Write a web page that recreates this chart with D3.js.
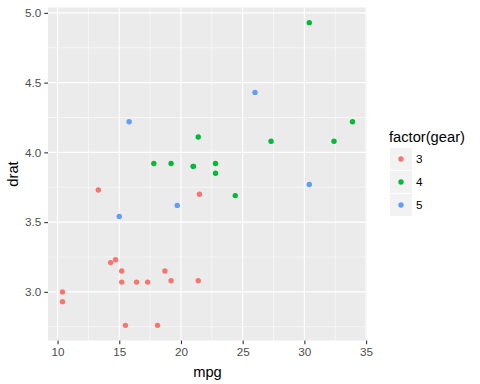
<!DOCTYPE html>
<html>
<head>
<meta charset="utf-8">
<script src="https://cdn.jsdelivr.net/npm/d3@7"></script>
<style>
  body { margin: 0; background: #fff; }
  text { font-family: "Liberation Sans", Arial, sans-serif; }
</style>
</head>
<body>
<div id="chart"></div>
<script>
// mtcars: mpg vs drat, coloured by gear
var mpg  = [21.0, 21.0, 22.8, 21.4, 18.7, 18.1, 14.3, 24.4, 22.8, 19.2, 17.8, 16.4, 17.3, 15.2, 10.4, 10.4,
            14.7, 32.4, 30.4, 33.9, 21.5, 15.5, 15.2, 13.3, 19.2, 27.3, 26.0, 30.4, 15.8, 19.7, 15.0, 21.4]
var drat = [3.90, 3.90, 3.85, 3.08, 3.15, 2.76, 3.21, 3.69, 3.92, 3.92, 3.92, 3.07, 3.07, 3.07, 2.93, 3.00,
            3.23, 4.08, 4.93, 4.22, 3.70, 2.76, 3.15, 3.73, 3.08, 4.08, 4.43, 3.77, 4.22, 3.62, 3.54, 4.11]
var gear = [4, 4, 4, 3, 3, 3, 3, 4, 4, 4, 4, 3, 3, 3, 3, 3,
            3, 4, 4, 4, 3, 3, 3, 3, 3, 4, 5, 5, 5, 5, 5, 4]
var gearLevels = ['3', '4', '5']
var gearColours = ['#F8766D', '#00BA38', '#619CFF']
var xTicks = [10, 15, 20, 25, 30, 35]
var yTicks = [3.0, 3.5, 4.0, 4.5, 5.0]

var width = 480, height = 384
var panel = { left: 48, right: 367, top: 7.5, bottom: 340.5 }

var dataset = mpg.map(function(d, i) {
    return { mpg: d, drat: drat[i], gear: String(gear[i]) }
})

var svg = d3.select('#chart').append('svg')
    .attr('width', width)
    .attr('height', height)

// scales with ggplot's 5% expansion
function expand(ext) {
    var r = ext[1] - ext[0]
    return [ext[0] - r * 0.05, ext[1] + r * 0.05]
}

var xScale = d3.scaleLinear()
    .domain(expand(d3.extent(mpg)))
    .range([panel.left, panel.right])

var yScale = d3.scaleLinear()
    .domain(expand(d3.extent(drat)))
    .range([panel.bottom, panel.top])

var colour = d3.scaleOrdinal().domain(gearLevels).range(gearColours)

// panel background
svg.append('rect')
    .attr('x', panel.left)
    .attr('y', panel.top)
    .attr('width', panel.right - panel.left)
    .attr('height', panel.bottom - panel.top)
    .style('fill', '#EBEBEB')

// minor grid
var xMinor = [], yMinor = []
for (var i = 0; i < xTicks.length - 1; i++) xMinor.push((xTicks[i] + xTicks[i + 1]) / 2)
yMinor.push(yTicks[0] - 0.25)
for (var i = 0; i < yTicks.length - 1; i++) yMinor.push((yTicks[i] + yTicks[i + 1]) / 2)

var grid = svg.append('g').classed('grid', true)

grid.selectAll('.xminor').data(xMinor.filter(d => xScale(d) > panel.left && xScale(d) < panel.right))
    .enter().append('line')
    .attr('x1', d => xScale(d)).attr('x2', d => xScale(d))
    .attr('y1', panel.top).attr('y2', panel.bottom)
    .style('stroke', '#fff').style('stroke-width', 0.55)

grid.selectAll('.yminor').data(yMinor.filter(d => yScale(d) < panel.bottom && yScale(d) > panel.top))
    .enter().append('line')
    .attr('y1', d => yScale(d)).attr('y2', d => yScale(d))
    .attr('x1', panel.left).attr('x2', panel.right)
    .style('stroke', '#fff').style('stroke-width', 0.55)

grid.selectAll('.xmajor').data(xTicks.filter(d => xScale(d) <= panel.right))
    .enter().append('line')
    .attr('x1', d => xScale(d)).attr('x2', d => xScale(d))
    .attr('y1', panel.top).attr('y2', panel.bottom)
    .style('stroke', '#fff').style('stroke-width', 1.1)

grid.selectAll('.ymajor').data(yTicks)
    .enter().append('line')
    .attr('y1', d => yScale(d)).attr('y2', d => yScale(d))
    .attr('x1', panel.left).attr('x2', panel.right)
    .style('stroke', '#fff').style('stroke-width', 1.1)

// axes
var xAxis = svg.append('g')
    .attr('transform', 'translate(0,' + panel.bottom + ')')
    .call(d3.axisBottom(xScale).tickValues(xTicks).tickSize(3.7).tickPadding(3).tickSizeOuter(0))
xAxis.select('.domain').remove()

var yAxis = svg.append('g')
    .attr('transform', 'translate(' + panel.left + ',0)')
    .call(d3.axisLeft(yScale).tickValues(yTicks).tickFormat(d3.format('.1f')).tickSize(3.7).tickPadding(3).tickSizeOuter(0))
yAxis.select('.domain').remove()

svg.selectAll('.tick line').style('stroke', '#333333').style('stroke-width', 1.1)
svg.selectAll('.tick text')
    .style('fill', '#4D4D4D')
    .style('font-size', '11.7px')
    .style('font-family', '"Liberation Sans", Arial, sans-serif')

// axis titles
svg.append('text')
    .attr('x', (panel.left + panel.right) / 2)
    .attr('y', 377)
    .attr('text-anchor', 'middle')
    .style('font-size', '14.7px')
    .text('mpg')

svg.append('text')
    .attr('transform', 'translate(18,' + ((panel.top + panel.bottom) / 2) + ') rotate(-90)')
    .attr('text-anchor', 'middle')
    .style('font-size', '14.7px')
    .text('drat')

// points
svg.append('g').classed('data-layer', true)
    .selectAll('circle')
    .data(dataset)
    .enter()
    .append('circle')
    .attr('cx', d => xScale(d.mpg))
    .attr('cy', d => yScale(d.drat))
    .attr('r', 2.7)
    .style('fill', d => colour(d.gear))

// legend
var legend = svg.append('g').attr('transform', 'translate(389,0)')

legend.append('text')
    .attr('x', 0)
    .attr('y', 142)
    .style('font-size', '14.7px')
    .text('factor(gear)')

var keys = legend.selectAll('.key')
    .data(gearLevels)
    .enter()
    .append('g')
    .attr('transform', (d, i) => 'translate(0,' + (148 + i * 23) + ')')

keys.append('rect')
    .attr('x', 1).attr('y', 0)
    .attr('width', 22).attr('height', 22)
    .style('fill', '#F2F2F2')

keys.append('circle')
    .attr('cx', 12).attr('cy', 11)
    .attr('r', 2.7)
    .style('fill', d => colour(d))

keys.append('text')
    .attr('x', 27).attr('y', 15.2)
    .style('font-size', '11.7px')
    .style('fill', '#000')
    .text(d => d)
</script>
</body>
</html>
